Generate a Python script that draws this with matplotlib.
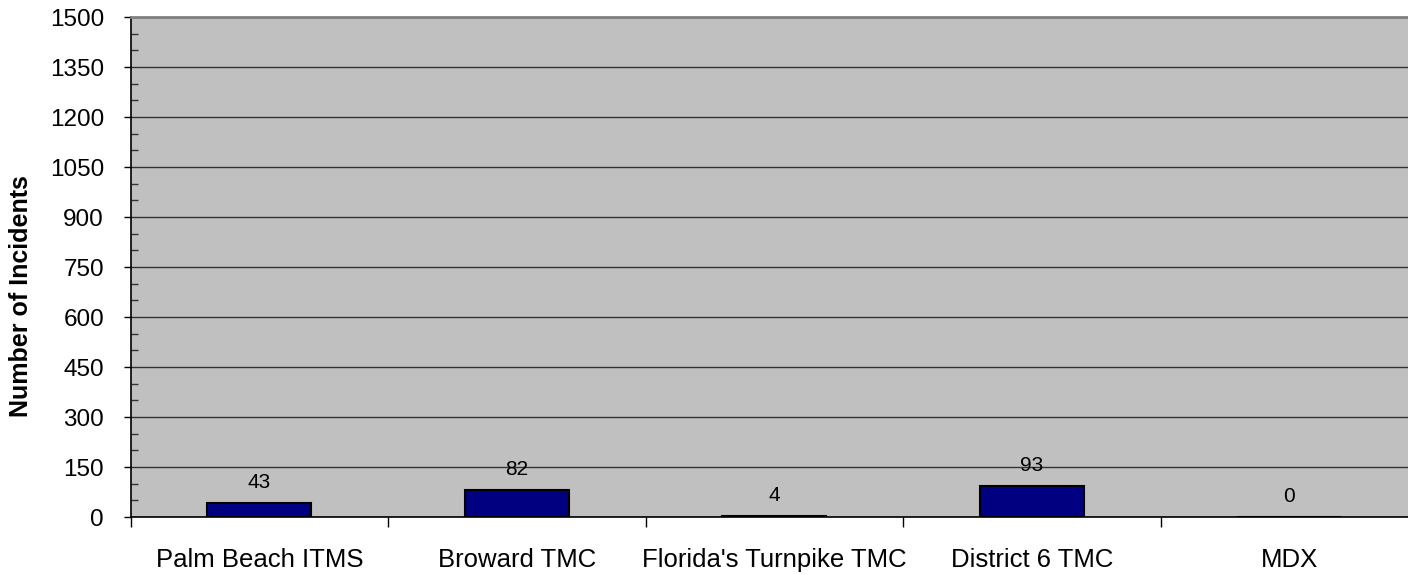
import numpy as np
import matplotlib.pyplot as plt
from matplotlib.ticker import MultipleLocator, FixedLocator

plt.rcParams["font.family"] = ["Liberation Sans", "DejaVu Sans"]

centers = ["Palm Beach ITMS", "Broward TMC", "Florida's Turnpike TMC", "District 6 TMC", "MDX"]
incidents = [43, 82, 4, 93, 0]

fig = plt.figure(figsize=(14.08, 5.75), dpi=100)
ax_w = 1287.5
ax = fig.add_axes([130.5 / 1408, 58 / 575, ax_w / 1408, 500 / 575])
ax.set_facecolor("#C0C0C0")

x = np.arange(len(centers))
bars = ax.bar(x, incidents, width=0.405, color="#000080", edgecolor="black", linewidth=1.5, zorder=3)
for xi, v in zip(x, incidents):
    ax.annotate(str(v), (xi, v), xytext=(0, 8), textcoords="offset points",
                ha="center", va="bottom", fontsize=15)

ax.set_xlim(-0.5, len(centers) - 0.5)
ax.set_ylim(0, 1500)
ax.yaxis.set_major_locator(MultipleLocator(150))
ax.yaxis.set_minor_locator(MultipleLocator(50))
ax.grid(axis="y", which="major", color="#333333", linewidth=1, zorder=1)

ax.set_xticks(x)
ax.set_xticklabels(centers, fontsize=18.5)
ax.xaxis.set_minor_locator(FixedLocator(np.arange(len(centers)) - 0.5))
ax.tick_params(axis="x", which="major", length=0, pad=22)
ax.tick_params(axis="x", which="minor", length=7, direction="out", width=1)
ax.tick_params(axis="y", which="major", length=5, direction="out", labelsize=17.5, width=1, pad=14)
ax.tick_params(axis="y", which="minor", length=5, direction="in", width=1, color="#333333")

ax.set_ylabel("Number of Incidents", fontsize=18, fontweight="bold")
ax.yaxis.set_label_coords(-(130 - 33) / ax_w, 0.442)

ax.spines["right"].set_visible(False)
ax.spines["top"].set_color("#808080")
ax.spines["top"].set_linewidth(2)
ax.spines["left"].set_color("black")
ax.spines["bottom"].set_color("black")
ax.spines["left"].set_linewidth(1.2)
ax.spines["bottom"].set_linewidth(1.2)

fig.savefig("out.png", dpi=100)
